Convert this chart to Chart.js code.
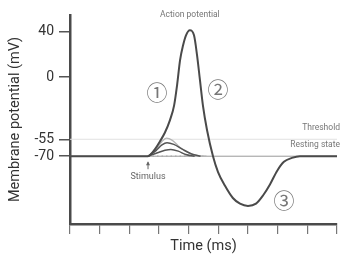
<!DOCTYPE html>
<html>
<head>
<meta charset="utf-8">
<script src="https://cdn.jsdelivr.net/npm/chart.js@4/dist/chart.umd.min.js"></script>
<style>
  html, body { margin:0; padding:0; background:#fff; }
  #wrap { width:363px; height:267px; }
</style>
</head>
<body>
<div id="wrap"><canvas id="apChart"></canvas></div>
<script>
// values: time in ms, membrane potential in mV
const yTickValues = [40, 0, -55, -70];
const restingMv = -70;
const thresholdMv = -55;
const stimulusMs = 2.63;
const timeSpan = [0, 9];

// action potential trace
const apTime = [0, 2.63, 2.70, 2.86, 3.03, 3.20, 3.37, 3.51, 3.61, 3.71, 3.81, 3.91, 4.04, 4.18, 4.28, 4.38, 4.48, 4.62, 4.82, 4.99, 5.22, 5.49, 5.73, 6.00, 6.27, 6.50, 6.74, 6.98, 7.21, 7.48, 7.75, 9];
const apVolt = [-70, -70, -69, -64, -57, -49, -38, -25, -7, 15, 28, 37, 41.5, 37, 20, -2.5, -25, -47, -70, -84, -96, -107, -112, -114, -112, -105, -95, -83, -75, -71.5, -70, -70];

// sub-threshold responses (three small bumps)
const subATime = [2.63, 2.9, 3.1, 3.25, 3.45, 3.7, 4.0, 4.3, 4.6];
const subAVolt = [-70, -64, -57, -54, -56, -62, -67, -69.5, -70];
const subBTime = [2.63, 2.9, 3.1, 3.27, 3.5, 3.8, 4.1, 4.4];
const subBVolt = [-70, -65, -60, -58, -59.5, -64, -68, -70];
const subCTime = [2.63, 2.95, 3.2, 3.4, 3.65, 3.9, 4.2];
const subCVolt = [-70, -67, -64.8, -64, -65.5, -68.5, -70];

function pts(xs, ys) { return xs.map((t, i) => ({ x: t, y: ys[i] })); }

const FONT = 'Roboto, "Liberation Sans", Arial, sans-serif';

// text labels drawn at data positions
const notesPlugin = {
  id: 'notes',
  afterDatasetsDraw(chart) {
    const { ctx, scales: { x, y }, chartArea } = chart;
    ctx.save();
    ctx.textBaseline = 'middle';

    ctx.fillStyle = '#777';
    ctx.font = '8.5px ' + FONT;
    ctx.textAlign = 'center';
    ctx.fillText('Action potential', x.getPixelForValue(4.04), chartArea.top);

    ctx.textAlign = 'right';
    ctx.fillText('Threshold', chartArea.right + 3, y.getPixelForValue(thresholdMv) - 11);
    ctx.fillText('Resting state', chartArea.right + 3, y.getPixelForValue(restingMv) - 11);

    // stimulus arrow
    const sx = x.getPixelForValue(stimulusMs);
    const sy = y.getPixelForValue(restingMv);
    ctx.strokeStyle = '#666';
    ctx.lineWidth = 1;
    ctx.beginPath();
    ctx.moveTo(sx, sy + 6); ctx.lineTo(sx, sy + 13);
    ctx.stroke();
    ctx.fillStyle = '#666';
    ctx.beginPath();
    ctx.moveTo(sx, sy + 5); ctx.lineTo(sx - 2, sy + 9); ctx.lineTo(sx + 2, sy + 9);
    ctx.closePath(); ctx.fill();
    ctx.textAlign = 'center';
    ctx.font = '9px ' + FONT;
    ctx.fillText('Stimulus', sx, sy + 21);

    // circled phase numbers
    ctx.fillStyle = '#777';
    ctx.font = '21px "Noto Sans CJK JP", "DejaVu Sans", sans-serif';
    ctx.fillText('①', x.getPixelForValue(2.93), y.getPixelForValue(-13));
    ctx.fillText('②', x.getPixelForValue(4.99), y.getPixelForValue(-10.5));
    ctx.fillText('③', x.getPixelForValue(7.21), y.getPixelForValue(-108.7));
    ctx.restore();
  }
};

const line = (data, color, width, order, extra) => Object.assign({
  data, borderColor: color, borderWidth: width, pointRadius: 0,
  cubicInterpolationMode: 'monotone', fill: false, order
}, extra || {});

new Chart(document.getElementById('apChart'), {
  type: 'line',
  data: {
    datasets: [
      line(pts(apTime, apVolt), '#4a4a4a', 2, 0),
      line(pts(subBTime, subBVolt), '#555', 1.5, 1),
      line(pts(subCTime, subCVolt), '#555', 1.5, 1),
      line(pts(subATime, subAVolt), '#b5b5b5', 1.3, 2),
      line(pts([stimulusMs, 4.5], [restingMv, restingMv]), '#aaa', 1.2, 3, { borderDash: [1.5, 3] }),
      line(pts(timeSpan, [restingMv, restingMv]), '#9a9a9a', 1, 5),
      line(pts(timeSpan, [thresholdMv, thresholdMv]), '#e2e2e2', 1, 5)
    ]
  },
  options: {
    responsive: true,
    maintainAspectRatio: false,
    animation: false,
    layout: { padding: { top: 15, right: 26, left: 0, bottom: 0 } },
    plugins: { legend: { display: false }, tooltip: { enabled: false } },
    scales: {
      x: {
        type: 'linear',
        min: timeSpan[0], max: timeSpan[1],
        afterFit: s => { s.height = 43; },
        ticks: { stepSize: 1, display: false },
        grid: { drawOnChartArea: false, drawTicks: true, tickLength: 10, color: '#777', lineWidth: 1.2 },
        border: { display: true, color: '#4a4a4a', width: 2.5 },
        title: { display: true, text: 'Time (ms)', color: '#333', font: { family: FONT, size: 14.5 }, padding: { top: 0, bottom: 12 } }
      },
      y: {
        min: -130, max: 55,
        afterFit: s => { s.width = 70; },
        afterBuildTicks: s => { s.ticks = yTickValues.map(v => ({ value: v })); },
        ticks: { color: '#333', padding: 5, font: { family: FONT, size: 14 } },
        grid: { drawOnChartArea: false, drawTicks: true, tickLength: 11, color: '#555', lineWidth: 1.5 },
        border: { display: true, color: '#4a4a4a', width: 2.5 },
        title: { display: true, text: 'Membrane potential (mV)', color: '#333', font: { family: FONT, size: 14.5 }, padding: { top: 7, bottom: 0 } }
      }
    }
  },
  plugins: [notesPlugin]
});
</script>
</body>
</html>
